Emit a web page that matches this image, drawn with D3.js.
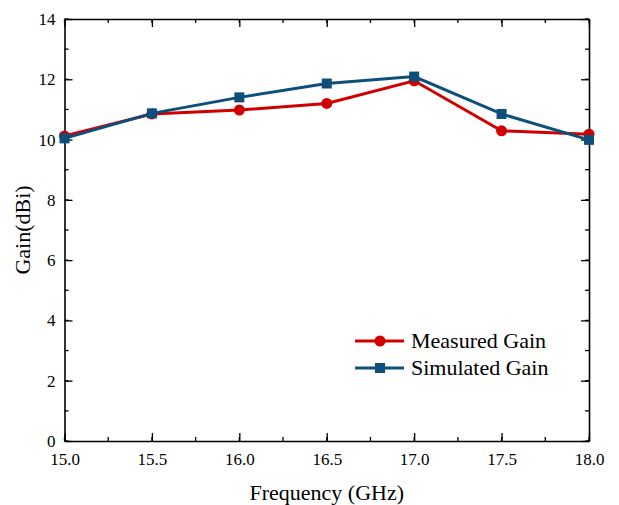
<!DOCTYPE html>
<html>
<head>
<meta charset="utf-8">
<script src="https://cdn.jsdelivr.net/npm/d3@7"></script>
<style>
  html, body { margin: 0; padding: 0; background: #fff; }
  svg { display: block; }
  svg text { font-family: "Liberation Serif", "Times New Roman", serif !important; fill: #000; }
</style>
</head>
<body>
<svg id="chart" width="619" height="505"></svg>
<script>
// Frequency points (GHz) and gain values (dBi)
const frequencies = [15.0, 15.5, 16.0, 16.5, 17.0, 17.5, 18.0];
const measuredGain = [10.12, 10.85, 10.98, 11.2, 11.95, 10.29, 10.18];
const simulatedGain = [10.04, 10.87, 11.4, 11.86, 12.09, 10.85, 9.99];

const xTickValues = [15.0, 15.5, 16.0, 16.5, 17.0, 17.5, 18.0];
const yTickValues = [0, 2, 4, 6, 8, 10, 12, 14];
const seriesNames = ["Measured Gain", "Simulated Gain"];

const red = "#d10000";
const blue = "#0b4f7a";
const serif = "Liberation Serif, Times New Roman, serif";

const svg = d3.select("#chart");
const plotLeft = 64.5, plotRight = 589, plotTop = 19, plotBottom = 441;

const x = d3.scaleLinear().domain([15, 18]).range([plotLeft, plotRight]);
const y = d3.scaleLinear().domain([0, 14]).range([plotBottom, plotTop]);

const xMinor = d3.range(15, 18.001, 0.25);
const yMinor = d3.range(0, 14.001, 1);

// Axes with inward ticks
const axisStyle = g => {
  g.attr("font-family", serif).attr("font-size", 17);
  g.selectAll(".domain").attr("stroke", "#000").attr("stroke-width", 1.6);
  g.selectAll(".tick line").attr("stroke", "#000").attr("stroke-width", 1.3);
  g.selectAll(".tick text").attr("fill", "#000");
};

// minor ticks
function minorTicks(orient, pos) {
  const g = svg.append("g");
  if (orient === "bottom" || orient === "top") {
    const dir = orient === "bottom" ? -1 : 1;
    g.selectAll("line").data(xMinor).join("line")
      .attr("x1", d => x(d)).attr("x2", d => x(d))
      .attr("y1", pos).attr("y2", pos + dir * 4)
      .attr("stroke", "#000").attr("stroke-width", 1.3);
  } else {
    const dir = orient === "left" ? 1 : -1;
    g.selectAll("line").data(yMinor).join("line")
      .attr("y1", d => y(d)).attr("y2", d => y(d))
      .attr("x1", pos).attr("x2", pos + dir * 4)
      .attr("stroke", "#000").attr("stroke-width", 1.3);
  }
}
minorTicks("bottom", plotBottom);
minorTicks("top", plotTop);
minorTicks("left", plotLeft);
minorTicks("right", plotRight);

svg.append("g").attr("transform", `translate(0,${plotBottom})`)
  .call(d3.axisBottom(x).tickValues(xTickValues).tickFormat(d3.format(".1f"))
    .tickSizeInner(-8).tickSizeOuter(0).tickPadding(12))
  .call(axisStyle);

svg.append("g").attr("transform", `translate(0,${plotTop})`)
  .call(d3.axisTop(x).tickValues(xTickValues).tickFormat("")
    .tickSizeInner(-8).tickSizeOuter(0))
  .call(axisStyle);

svg.append("g").attr("transform", `translate(${plotLeft},0)`)
  .call(d3.axisLeft(y).tickValues(yTickValues).tickFormat(d3.format("d"))
    .tickSizeInner(-8).tickSizeOuter(0).tickPadding(9))
  .call(axisStyle);

svg.append("g").attr("transform", `translate(${plotRight},0)`)
  .call(d3.axisRight(y).tickValues(yTickValues).tickFormat("")
    .tickSizeInner(-8).tickSizeOuter(0))
  .call(axisStyle);

// Axis titles
svg.append("text")
  .attr("x", (plotLeft + plotRight) / 2).attr("y", 500)
  .attr("text-anchor", "middle")
  .attr("font-family", serif).attr("font-size", 22)
  .text("Frequency (GHz)");

svg.append("text")
  .attr("transform", `translate(30,${(plotTop + plotBottom) / 2}) rotate(-90)`)
  .attr("text-anchor", "middle")
  .attr("font-family", serif).attr("font-size", 22)
  .text("Gain(dBi)");

// Series
const line = d3.line().x(d => x(d[0])).y(d => y(d[1]));
const measured = frequencies.map((f, i) => [f, measuredGain[i]]);
const simulated = frequencies.map((f, i) => [f, simulatedGain[i]]);

svg.append("path").datum(measured).attr("d", line)
  .attr("fill", "none").attr("stroke", red).attr("stroke-width", 3);
svg.append("g").selectAll("circle").data(measured).join("circle")
  .attr("cx", d => x(d[0])).attr("cy", d => y(d[1])).attr("r", 5.5)
  .attr("fill", red);

svg.append("path").datum(simulated).attr("d", line)
  .attr("fill", "none").attr("stroke", blue).attr("stroke-width", 3);
svg.append("g").selectAll("rect").data(simulated).join("rect")
  .attr("x", d => x(d[0]) - 5).attr("y", d => y(d[1]) - 5)
  .attr("width", 10).attr("height", 10)
  .attr("fill", blue);

// Legend
const legend = svg.append("g");
const legendRows = [
  { name: seriesNames[0], color: red, shape: "circle", y: 341 },
  { name: seriesNames[1], color: blue, shape: "square", y: 368 }
];
legendRows.forEach(r => {
  legend.append("line")
    .attr("x1", 355).attr("x2", 404).attr("y1", r.y).attr("y2", r.y)
    .attr("stroke", r.color).attr("stroke-width", 3);
  if (r.shape === "circle") {
    legend.append("circle").attr("cx", 380).attr("cy", r.y).attr("r", 5.5).attr("fill", r.color);
  } else {
    legend.append("rect").attr("x", 375).attr("y", r.y - 5).attr("width", 10).attr("height", 10).attr("fill", r.color);
  }
  legend.append("text")
    .attr("x", 411).attr("y", r.y + 6.5)
    .attr("font-family", serif).attr("font-size", 22)
    .text(r.name);
});
</script>
</body>
</html>
